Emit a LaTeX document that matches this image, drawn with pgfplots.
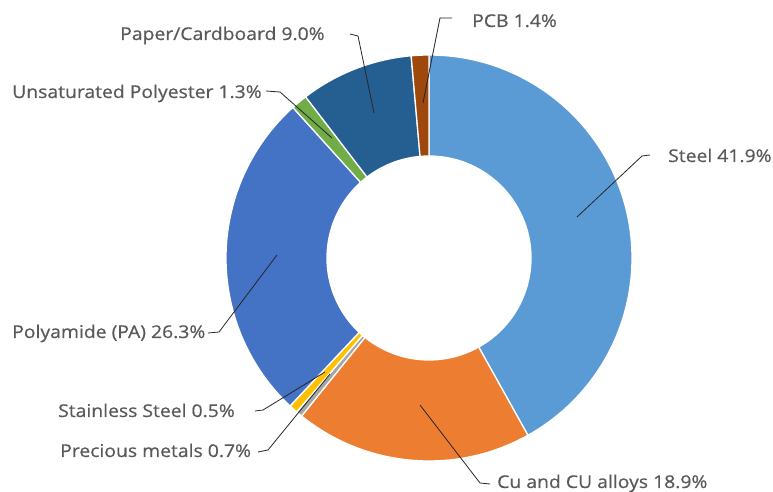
\documentclass[border=0pt]{standalone}
\usepackage{pgfplots}
\usepackage{pgfplotstable}
\pgfplotsset{compat=1.18}
\usepackage{fontspec}
\setmainfont{Open Sans}[FakeStretch=1.1,FakeBold=0.6]
\definecolor{cSteel}{HTML}{5B9BD5}
\definecolor{cCu}{HTML}{ED7D31}
\definecolor{cStain}{HTML}{A5A5A5}
\definecolor{cPrec}{HTML}{FFC000}
\definecolor{cPA}{HTML}{4472C4}
\definecolor{cUP}{HTML}{70AD47}
\definecolor{cPaper}{HTML}{255E91}
\definecolor{cPCB}{HTML}{9E480E}
\definecolor{lbl}{HTML}{595959}
\tikzset{
  lbl/.style={font=\fontsize{17.6}{20}\selectfont,text=lbl,inner sep=0pt,anchor=base west},
  leader/.style={draw=black!85,line width=0.8pt}}

% share (%) of each material, clockwise from 12 o'clock
\pgfplotstableread{
value color
41.9 cSteel
18.9 cCu
0.5 cStain
0.7 cPrec
26.3 cPA
1.3 cUP
9.0 cPaper
1.4 cPCB
}\piedata

\begin{document}
\begin{tikzpicture}
\gdef\cum{0}
\pgfplotsforeachungrouped \i in {0,...,7}{%
  \pgfplotstablegetelem{\i}{value}\of\piedata
  \let\v\pgfplotsretval
  \pgfmathsetmacro\sa{90-3.6*\cum}%
  \pgfmathsetmacro\newcum{\cum+\v}%
  \xdef\cum{\newcum}%
  \pgfmathsetmacro\ea{90-3.6*\cum}%
  \expandafter\xdef\csname sa\i\endcsname{\sa}%
  \expandafter\xdef\csname ea\i\endcsname{\ea}%
  \pgfplotstablegetelem{\i}{color}\of\piedata
  \expandafter\xdef\csname col\i\endcsname{\pgfplotsretval}%
}
\begin{axis}[x=1pt,y=1pt,xmin=0,xmax=773,ymin=0,ymax=492,
  hide axis,clip=false,anchor=south west,at={(0,0)}]
\pgfplotsinvokeforeach{0,...,7}{%
  \edef\tmp{\noexpand\filldraw[fill=\csname col#1\endcsname,draw=white,line width=1.3pt,line join=round]
    ([shift={(\csname sa#1\endcsname:203pt)}]axis cs:429,234)
    arc[start angle=\csname sa#1\endcsname,end angle=\csname ea#1\endcsname,radius=203pt]
    -- ([shift={(\csname ea#1\endcsname:102pt)}]axis cs:429,234)
    arc[start angle=\csname ea#1\endcsname,end angle=\csname sa#1\endcsname,radius=102pt]
    -- cycle;}%
  \tmp
}
% leader lines
\draw[leader] (axis cs:350,458) -- (axis cs:358,456) -- (axis cs:374,379);
\draw[leader] (axis cs:452,474) -- (axis cs:440,474) -- (axis cs:423,389);
\draw[leader] (axis cs:266,401) -- (axis cs:280,400) -- (axis cs:332,354);
\draw[leader] (axis cs:650,337) -- (axis cs:642,336) -- (axis cs:577,275);
\draw[leader] (axis cs:208,159) -- (axis cs:219,160) -- (axis cs:277,237);
\draw[leader] (axis cs:255,81) -- (axis cs:263,82) -- (axis cs:325,120);
\draw[leader] (axis cs:258,40) -- (axis cs:268,42) -- (axis cs:330,118);
\draw[leader] (axis cs:490,8) -- (axis cs:480,9) -- (axis cs:420,87);
% labels
\node[lbl] at (axis cs:120,452) {Paper/Cardboard 9.0\%};
\node[lbl] at (axis cs:472,465) {PCB 1.4\%};
\node[lbl] at (axis cs:12,394) {Unsaturated Polyester 1.3\%};
\node[lbl] at (axis cs:668,330) {Steel 41.9\%};
\node[lbl] at (axis cs:12,154) {Polyamide (PA) 26.3\%};
\node[lbl] at (axis cs:58,75) {Stainless Steel 0.5\%};
\node[lbl] at (axis cs:60,35) {Precious metals 0.7\%};
\node[lbl] at (axis cs:497,4) {Cu and CU alloys 18.9\%};
\end{axis}
\pgfresetboundingbox
\path[use as bounding box] (0,0) rectangle (773pt,492pt);
\end{tikzpicture}
\end{document}
